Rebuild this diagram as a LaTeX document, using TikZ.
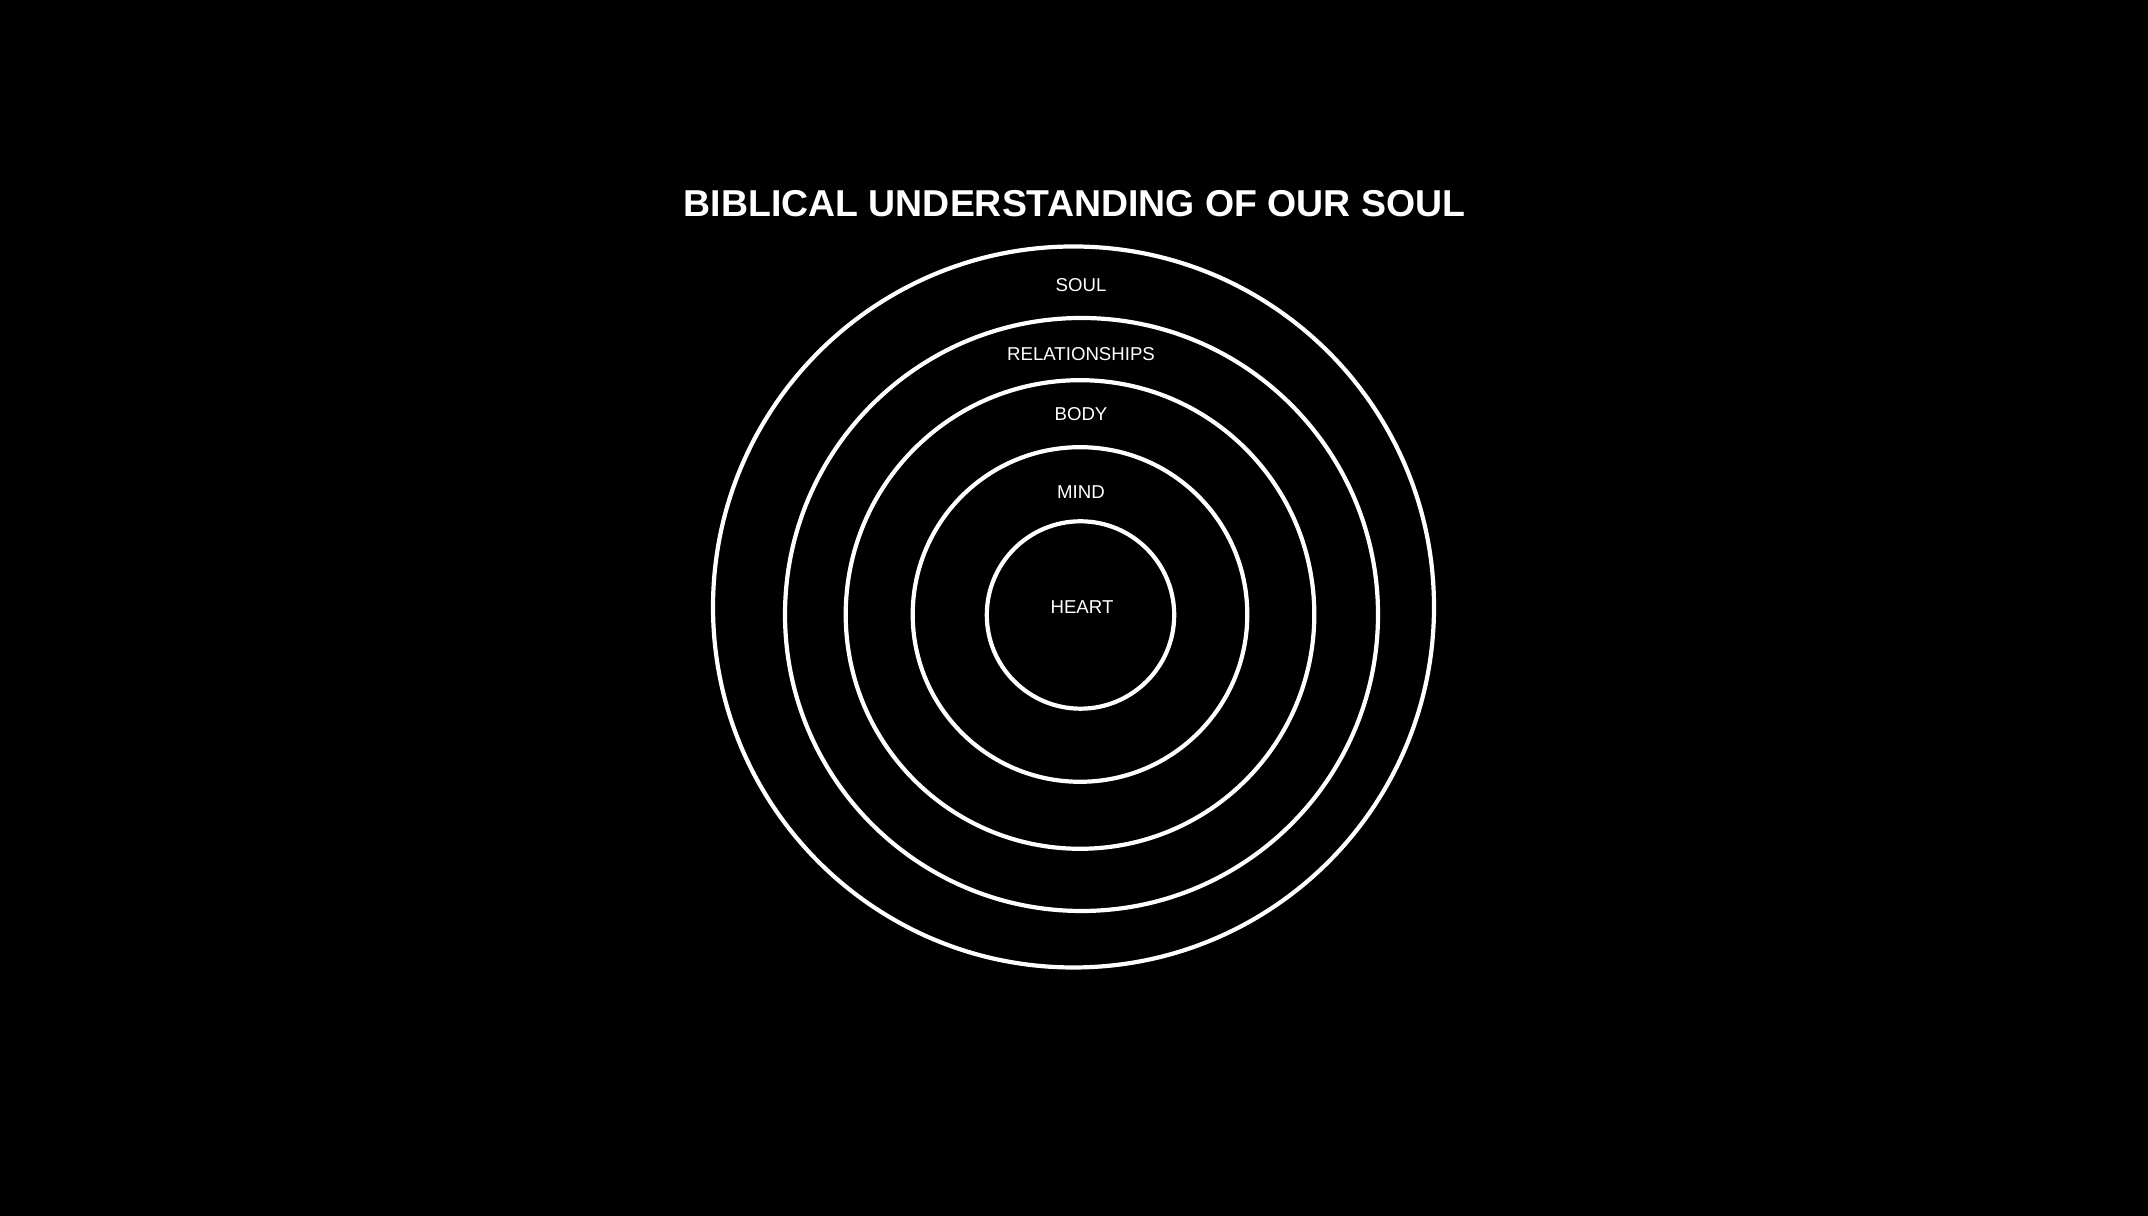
\documentclass[tikz,border=0pt]{standalone}
\usepackage{fontspec}
\setmainfont{Liberation Sans}
\begin{document}
\begin{tikzpicture}[x=1cm,y=1cm,
  ring/.style={draw=white, line width=0.042cm},
  lbl/.style={text=white, inner sep=0pt, anchor=base, font=\fontsize{5.3pt}{6pt}\selectfont},
  ttl/.style={text=white, inner sep=0pt, anchor=base, font=\bfseries\fontsize{10.65pt}{12pt}\selectfont}]
\fill[black] (0,0) rectangle (21.48,12.16);
\useasboundingbox (0,0) rectangle (21.48,12.16);
\coordinate (cSoul) at (10.735,6.09);
\coordinate (cRel) at (10.815,6.015);
\coordinate (cBody) at (10.80,6.015);
\coordinate (cMind) at (10.80,6.015);
\coordinate (cHeart) at (10.805,6.01);
\draw[ring] (cSoul) circle (3.605);
\draw[ring] (cRel) circle (2.965);
\draw[ring] (cBody) circle (2.343);
\draw[ring] (cMind) circle (1.673);
\draw[ring] (cHeart) circle (0.937);
\node[ttl] (title) at (10.745,9.993) {BIBLICAL UNDERSTANDING OF OUR SOUL};
\node[lbl] (soul) at (10.81,9.245) {SOUL};
\node[lbl] (rel) at (10.81,8.555) {RELATIONSHIPS};
\node[lbl] (body) at (10.81,7.955) {BODY};
\node[lbl] (mind) at (10.81,7.175) {MIND};
\node[lbl] (heart) at (10.82,6.025) {HEART};
\end{tikzpicture}
\end{document}
